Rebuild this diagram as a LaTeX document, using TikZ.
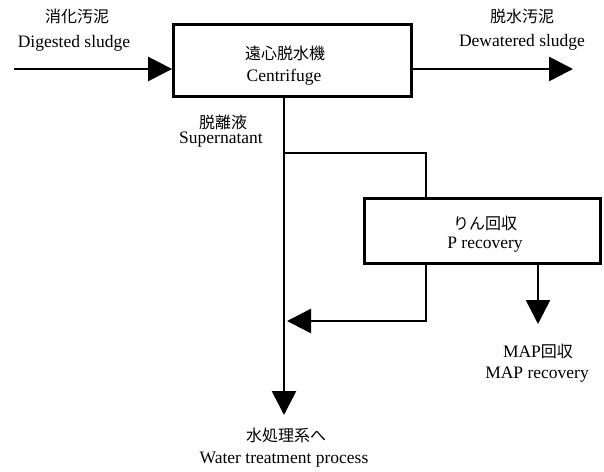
\documentclass[tikz,border=0pt]{standalone}
\usepackage{fontspec}
\setmainfont{Liberation Serif}
\newfontfamily\jpfont{Noto Sans CJK JP}
\usetikzlibrary{arrows.meta}
\tikzset{
  flow/.style={line width=2.6pt},
  procbox/.style={draw, line width=2.8pt, inner sep=0pt},
  jptext/.style={font=\jpfont\fontsize{16}{18}\selectfont, inner sep=0pt},
  entext/.style={font=\fontsize{17.5}{20}\selectfont, inner sep=0pt},
}
\begin{document}
\begin{tikzpicture}[x=1pt,y=-1pt, >={Triangle[length=24pt,width=24pt]}]
\useasboundingbox (0,0) rectangle (604,471);
% boxes
\node[procbox, minimum width=238pt, minimum height=72pt] (cen) at (292.5,60.5) {};
\node[procbox, minimum width=236pt, minimum height=65pt] (prec) at (482.5,231) {};
% coordinates
\coordinate (in) at (14,69);
\coordinate (out) at (573,69);
\coordinate (wt) at (284,415);
\coordinate (br) at (284,153);
\coordinate (pa) at (426,153);
\coordinate (rb) at (426,321);
\coordinate (rt) at (287,321);
\coordinate (map) at (538,324);
% connectors
\draw[flow,->] (in) -- (in -| cen.west);
\draw[flow,->] (cen.east |- out) -- (out);
\draw[flow,->] (cen.south -| wt) -- (wt);
\draw[flow] (br) -- (pa) -- (pa |- prec.north);
\draw[flow,->] (prec.south -| rb) -- (rb) -- (rt);
\draw[flow,->] (prec.south -| map) -- (map);
% labels
\node[jptext] (inj) at (77,16) {消化汚泥};
\node[entext] (ine) at (74,43) {Digested sludge};
\node[jptext] (outj) at (522,16) {脱水汚泥};
\node[entext] (oute) at (522,42) {Dewatered sludge};
\node[jptext] (cenj) at (285,53) {遠心脱水機};
\node[entext] (cene) at (284,77) {Centrifuge};
\node[jptext] (supj) at (223,122) {脱離液};
\node[entext] (supe) at (221,140) {Supernatant};
\node[jptext] (precj) at (485,223) {りん回収};
\node[entext] (prece) at (485,245) {P recovery};
\node[jptext] (mapj) at (538,351) {{\rmfamily\fontsize{17.5}{20}\selectfont MAP}回収};
\node[entext] (mape) at (537,375) {MAP recovery};
\node[jptext] (wtj) at (286,435) {水処理系へ};
\node[entext] (wte) at (284,460) {Water treatment process};
\end{tikzpicture}
\end{document}
